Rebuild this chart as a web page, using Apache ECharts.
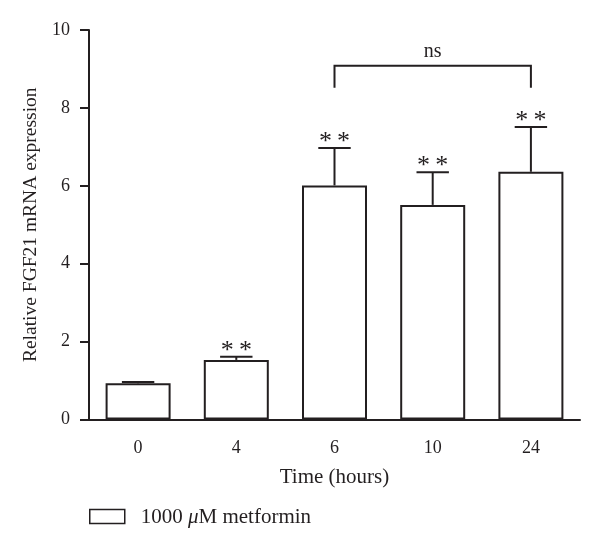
<!DOCTYPE html>
<html>
<head>
<meta charset="utf-8">
<script src="https://cdn.jsdelivr.net/npm/echarts@6/dist/echarts.min.js"></script>
<style>html,body{margin:0;padding:0;background:#fff}#c{width:600px;height:547px}</style>
</head>
<body>
<div id="c"></div>
<script>
var categories = ['0', '4', '6', '10', '24'];
var meanValues = [0.93, 1.53, 6.01, 5.51, 6.36];
var errorTops = [0.96, 1.61, 6.97, 6.35, 7.51];
var starMarks = ['', '*\u2009*', '*\u2009*', '*\u2009*', '*\u2009*'];
var yTicks = [0, 2, 4, 6, 8, 10];
var bracketFrom = '6';
var bracketTo = '24';
var bracketTop = 9.08;
var bracketLeg = 8.52;
var bracketText = 'ns';
var seriesName = '1000 μM metformin';

var INK = '#231f20';
var FONT = '"Liberation Serif", "DejaVu Serif", serif';

var chart = echarts.init(document.getElementById('c'), null, {renderer: 'canvas'});

var errData = categories.map(function (c, i) { return [i, meanValues[i], errorTops[i]]; });

chart.setOption({
  animation: false,
  backgroundColor: '#fff',
  grid: {left: 89, right: 20, top: 30, bottom: 127.5, containLabel: false},
  legend: {
    left: 89, top: 507, orient: 'horizontal', padding: 0,
    itemWidth: 35, itemHeight: 14,
    icon: 'rect',
    data: [seriesName],
    itemStyle: {color: '#fff', borderColor: INK, borderWidth: 1.5},
    formatter: function () { return '{n|1000 }{i|μ}{n|M metformin}'; },
    textStyle: {
      padding: [2, 0, 0, 11],
      rich: {
        n: {fontFamily: FONT, fontSize: 21, color: INK},
        i: {fontFamily: FONT, fontSize: 21, color: INK, fontStyle: 'italic'}
      }
    }
  },
  xAxis: {
    type: 'category',
    data: categories,
    boundaryGap: true,
    name: 'Time (hours)',
    nameLocation: 'middle',
    nameGap: 47,
    nameTextStyle: {fontFamily: FONT, fontSize: 21, color: INK},
    axisLine: {lineStyle: {color: INK, width: 2}},
    axisTick: {alignWithLabel: true, length: 9, lineStyle: {color: INK, width: 2}},
    axisLabel: {fontFamily: FONT, fontSize: 18, color: INK, margin: 20},
    splitLine: {show: false}
  },
  yAxis: {
    type: 'value',
    min: 0, max: 10, interval: 2,
    name: 'Relative FGF21 mRNA expression',
    nameLocation: 'middle',
    nameGap: 42,
    nameTextStyle: {fontFamily: FONT, fontSize: 19.5, color: INK},
    axisLine: {show: true, lineStyle: {color: INK, width: 2}},
    axisTick: {show: true, length: 9, lineStyle: {color: INK, width: 2}},
    axisLabel: {fontFamily: FONT, fontSize: 18, color: INK, margin: 19,
      formatter: function (v) { return yTicks.indexOf(v) >= 0 ? String(v) : ''; }},
    splitLine: {show: false}
  },
  series: [
    {
      name: seriesName,
      type: 'bar',
      data: meanValues,
      barWidth: 65,
      itemStyle: {color: '#fff', borderColor: INK, borderWidth: 2},
      z: 2
    },
    {
      type: 'custom',
      data: errData,
      z: 3,
      renderItem: function (params, api) {
        var i = api.value(0);
        var pBase = api.coord([i, api.value(1)]);
        var pTop = api.coord([i, api.value(2)]);
        var band = api.size([1, 0])[0];
        var half = band * 0.165;
        var star = starMarks[params.dataIndex];
        var children = [
          {type: 'line', shape: {x1: pBase[0], y1: pBase[1], x2: pTop[0], y2: pTop[1]}, style: {stroke: INK, lineWidth: 2}},
          {type: 'line', shape: {x1: pTop[0] - half, y1: pTop[1], x2: pTop[0] + half, y2: pTop[1]}, style: {stroke: INK, lineWidth: 2}}
        ];
        if (star) {
          children.push({type: 'text', style: {text: star, x: pTop[0], y: pTop[1] + 7, align: 'center', verticalAlign: 'bottom', fontFamily: FONT, fontSize: 26, fill: INK}});
        }
        return {type: 'group', children: children};
      }
    },
    {
      type: 'custom',
      data: [[bracketFrom, bracketTo, bracketTop, bracketLeg]],
      z: 3,
      renderItem: function (params, api) {
        var a = api.coord([categories.indexOf(bracketFrom), bracketTop]);
        var b = api.coord([categories.indexOf(bracketTo), bracketTop]);
        var legY = api.coord([0, bracketLeg])[1];
        return {type: 'group', children: [
          {type: 'polyline', shape: {points: [[a[0], legY], [a[0], a[1]], [b[0], b[1]], [b[0], legY]]}, style: {stroke: INK, lineWidth: 2, fill: null}},
          {type: 'text', style: {text: bracketText, x: (a[0] + b[0]) / 2, y: a[1] - 4, align: 'center', verticalAlign: 'bottom', fontFamily: FONT, fontSize: 20, fill: INK}}
        ]};
      }
    }
  ]
});
</script>
</body>
</html>
